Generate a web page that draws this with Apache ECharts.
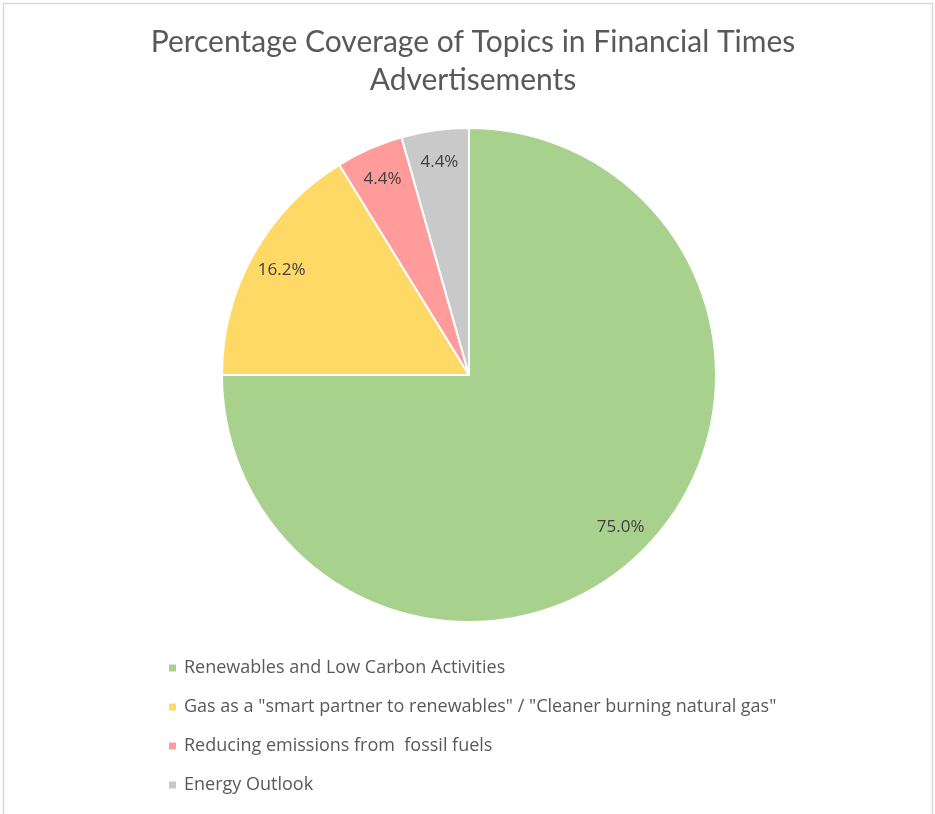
<!DOCTYPE html>
<html>
<head>
<meta charset="utf-8">
<script src="https://cdn.jsdelivr.net/npm/echarts@6/dist/echarts.min.js"></script>
<style>
  html, body { margin: 0; padding: 0; background: #fff; }
  #main { width: 935px; height: 814px; }
</style>
</head>
<body>
<div id="main"></div>
<script>
// data
var categories = [
    'Renewables and Low Carbon Activities',
    'Gas as a "smart partner to renewables" / "Cleaner burning natural gas"',
    'Reducing emissions from  fossil fuels',
    'Energy Outlook'
];
var shares = [75.0, 16.2, 4.4, 4.4];
var colors = ['#A9D18E', '#FFD966', '#FF9B9B', '#C9C9C9'];

var myChart = echarts.init(document.getElementById('main'));

var pieData = categories.map(function (name, i) {
    return { name: name, value: shares[i], itemStyle: { color: colors[i] } };
});
// transparent ring only used to put the labels further out
var labelData = categories.map(function (name, i) {
    return { name: name, value: shares[i] };
});

myChart.setOption({
    animation: false,
    title: {
        text: 'Percentage Coverage of Topics in Financial Times\nAdvertisements',
        left: 468,
        textAlign: 'center',
        top: 18,
        textStyle: {
            fontFamily: 'Lato',
            fontWeight: 'normal',
            fontSize: 30,
            lineHeight: 38,
            color: '#595959'
        }
    },
    legend: {
        orient: 'vertical',
        left: 162,
        top: 654,
        icon: 'rect',
        itemWidth: 9,
        itemHeight: 9,
        itemGap: 21,
        selectedMode: false,
        data: categories,
        textStyle: {
            fontFamily: 'Open Sans',
            fontSize: 18,
            color: '#595959',
            padding: [0, 0, 0, 2]
        }
    },
    graphic: [{
        type: 'rect',
        shape: { x: 3.5, y: 3.5, width: 929, height: 830 },
        style: { fill: 'none', stroke: '#D9D9D9', lineWidth: 1.5 },
        silent: true
    }],
    series: [{
        type: 'pie',
        center: [469, 375],
        radius: 247,
        startAngle: 90,
        clockwise: true,
        label: { show: false },
        labelLine: { show: false },
        itemStyle: { borderColor: '#fff', borderWidth: 2 },
        emphasis: { disabled: true },
        data: pieData
    }, {
        type: 'pie',
        center: [469, 375],
        radius: [176, 247],
        startAngle: 90,
        clockwise: true,
        silent: true,
        itemStyle: { color: 'rgba(0,0,0,0)' },
        label: {
            show: true,
            position: 'inside',
            formatter: function (p) { return p.value.toFixed(1) + '%'; },
            fontFamily: 'Open Sans',
            fontSize: 17,
            color: '#404040'
        },
        labelLine: { show: false },
        emphasis: { disabled: true },
        data: labelData
    }]
});
</script>
</body>
</html>
